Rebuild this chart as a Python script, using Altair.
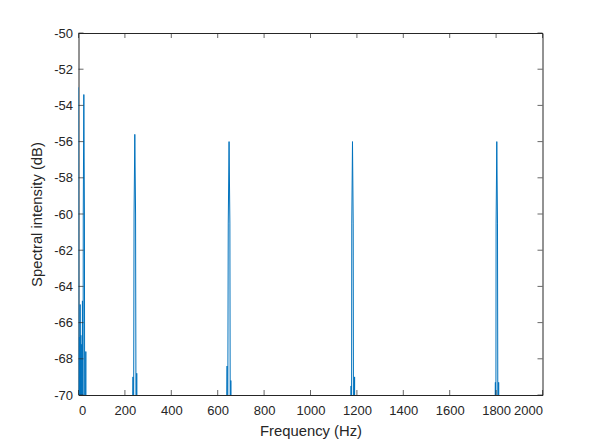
import altair as alt
import pandas as pd

# Spectrum samples (Hz, dB); values below -70 dB are outside the visible range
freq_hz = [0, 2, 4, 5.5, 7, 8.5, 10, 12, 14, 15.5, 17, 19.5, 20.5, 23, 25.5, 27.5, 31.5, 34,
           225, 235, 236.5, 239.5, 242.7, 246, 249, 251, 254,
           630, 640.5, 642, 645.5, 649, 652.5, 655, 656.5, 660,
           1165, 1175, 1176.5, 1178, 1181, 1184, 1186, 1190, 1193,
           1785, 1797, 1798.5, 1800, 1803, 1806, 1808.5, 1811, 1815,
           2000]
intensity_db = [-53.0, -72, -66.8, -74, -65.0, -70, -66.7, -74, -67.2, -72, -64.8, -76, -60, -53.4, -60, -80, -67.6, -85,
                -85, -69.0, -78, -60, -55.6, -60, -78, -68.8, -85,
                -85, -68.4, -78, -60.5, -56.0, -60.5, -78, -69.2, -85,
                -85, -69.5, -78, -60.5, -56.0, -60.5, -78, -69.0, -85,
                -85, -69.3, -78, -60.5, -56.0, -60.5, -78, -69.3, -85,
                -85]

x_ticks = list(range(0, 2001, 200))
y_ticks = list(range(-70, -49, 2))

AX = "#262626"
FONT = "Liberation Sans"

df = pd.DataFrame({"f": freq_hz, "db": intensity_db})
xt = pd.DataFrame({"v": x_ticks})
yt = pd.DataFrame({"v": y_ticks})

xs = alt.Scale(domain=[0, 2000], nice=False, zero=False)
ys = alt.Scale(domain=[-70, -50], nice=False, zero=False)

x_axis = alt.Axis(
    title="Frequency (Hz)", values=x_ticks, ticks=False, domain=False, grid=False,
    labelPadding=9, titleY=40, titleBaseline="alphabetic",
    labelExpr="'' + datum.value")
y_axis = alt.Axis(
    title="Spectral intensity (dB)", values=y_ticks, ticks=False, domain=False, grid=False,
    labelPadding=6, titleX=-37, titleBaseline="alphabetic",
    labelExpr="'' + datum.value")

line = alt.Chart(df).mark_line(color="#0072BD", strokeWidth=1, clip=True).encode(
    x=alt.X("f:Q", scale=xs, axis=x_axis),
    y=alt.Y("db:Q", scale=ys, axis=y_axis),
)

tick_style = dict(color=AX, thickness=1, size=5)

bottom = alt.Chart(xt).mark_tick(orient="vertical", yOffset=-2.5, **tick_style).encode(
    x=alt.X("v:Q", scale=xs, axis=x_axis),
    y=alt.YDatum(-70, scale=ys, axis=y_axis),
)
top = alt.Chart(xt).mark_tick(orient="vertical", yOffset=2.5, **tick_style).encode(
    x=alt.X("v:Q", scale=xs, axis=x_axis),
    y=alt.YDatum(-50, scale=ys, axis=y_axis),
)
left = alt.Chart(yt).mark_tick(orient="horizontal", xOffset=2.5, **tick_style).encode(
    y=alt.Y("v:Q", scale=ys, axis=y_axis),
    x=alt.XDatum(0, scale=xs, axis=x_axis),
)
right = alt.Chart(yt).mark_tick(orient="horizontal", xOffset=-2.5, **tick_style).encode(
    y=alt.Y("v:Q", scale=ys, axis=y_axis),
    x=alt.XDatum(2000, scale=xs, axis=x_axis),
)

chart = alt.layer(line, bottom, top, left, right).properties(
    width=464, height=362,
    autosize=alt.AutoSizeParams(type="none"),
    padding={"left": 70.5, "top": 25, "right": 49, "bottom": 55},
    background="white",
).configure_view(
    stroke=AX, strokeWidth=1
).configure_axis(
    labelFont=FONT, labelFontSize=13, labelColor=AX,
    titleFont=FONT, titleFontSize=14.8, titleColor=AX, titleFontWeight="normal",
)

chart.save("out.html", embed_options={"renderer": "svg", "actions": False})
